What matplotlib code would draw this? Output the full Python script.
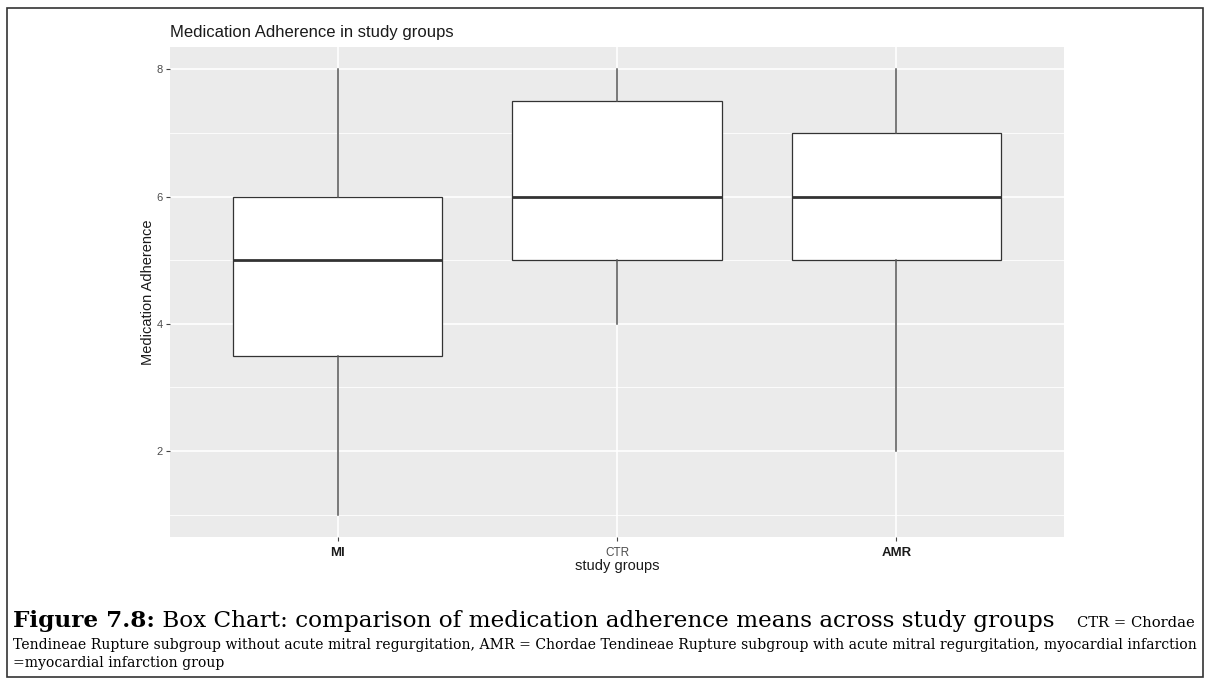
import matplotlib.pyplot as plt
from matplotlib.patches import Rectangle

# datos del gráfico
grupos = ['MI', 'CTR', 'AMR']
bigote_inf = [1, 4, 2]
q1 = [3.5, 5, 5]
mediana = [5, 6, 6]
q3 = [6, 7.5, 7]
bigote_sup = [8, 8, 8]
ticks_y = [2, 4, 6, 8]

W, H = 1206, 679
fig = plt.figure(figsize=(W / 100, H / 100), dpi=100)

# panel de la gráfica (coordenadas en pixeles de la imagen)
x0, x1, y0, y1 = 170, 1064, 47, 537
ax = fig.add_axes([x0 / W, 1 - y1 / H, (x1 - x0) / W, (y1 - y0) / H])
ax.set_facecolor('#EBEBEB')
for s in ax.spines.values():
    s.set_visible(False)

stats = []
for i, g in enumerate(grupos):
    stats.append(dict(label=g, whislo=bigote_inf[i], q1=q1[i], med=mediana[i],
                      q3=q3[i], whishi=bigote_sup[i], fliers=[]))

ax.bxp(stats, positions=range(1, len(grupos) + 1), widths=0.75, patch_artist=True,
       showcaps=False,
       boxprops=dict(facecolor='white', edgecolor='#333333', linewidth=0.9),
       medianprops=dict(color='#333333', linewidth=2.0),
       whiskerprops=dict(color='#555555', linewidth=1.1),
       zorder=3)

ax.set_xlim(0.4, 3.6)
ax.set_ylim(0.65, 8.35)

# rejilla estilo ggplot
ax.set_yticks(ticks_y)
ax.set_yticks([1, 3, 5, 7], minor=True)
ax.grid(which='major', axis='both', color='white', linewidth=1.2, zorder=0)
ax.grid(which='minor', axis='y', color='white', linewidth=0.6, zorder=0)
ax.set_axisbelow(True)
ax.tick_params(which='minor', length=0)
ax.tick_params(which='major', length=3, width=0.8, color='#444444', pad=2)
ax.tick_params(axis='y', labelsize=8, labelcolor='#4D4D4D')
ax.tick_params(axis='x', pad=4)
ax.set_yticklabels([str(t) for t in ticks_y], family='Liberation Sans')

ax.set_xticks(range(1, len(grupos) + 1))
ax.set_xticklabels(grupos, family='Liberation Sans')
for lab in ax.get_xticklabels():
    if lab.get_text() == 'CTR':
        lab.set_fontsize(8.5)
        lab.set_color('#4D4D4D')
    else:
        lab.set_fontsize(9.5)
        lab.set_fontweight('bold')
        lab.set_color('#1A1A1A')

ax.set_xlabel('study groups', family='Liberation Sans', fontsize=10.5,
              color='#1A1A1A', labelpad=0)
ax.set_ylabel('Medication Adherence', family='Liberation Sans', fontsize=10.5,
              color='#1A1A1A', labelpad=1)
ax.set_title('Medication Adherence in study groups', family='Liberation Sans',
             fontsize=12, color='#1A1A1A', loc='left', pad=7)

# marco exterior
fig.patches.append(Rectangle((7 / W, 1 - 677 / H), 1196 / W, 669 / H,
                             transform=fig.transFigure, fill=False,
                             edgecolor='#333333', linewidth=1.2))

# pie de figura con fuentes mezcladas
fig.canvas.draw()
rend = fig.canvas.get_renderer()


def trozo(x, y, txt, **kw):
    t = fig.text(x / W, 1 - y / H, txt, family='DejaVu Serif',
                 va='baseline', ha='left', **kw)
    return x + t.get_window_extent(rend).width, t


linea2 = ('Tendineae Rupture subgroup without acute mitral regurgitation, AMR = Chordae '
          'Tendineae Rupture subgroup with acute mitral regurgitation, myocardial infarction')

# tamaño del texto pequeño ajustado al ancho de la línea 2
fin, t = trozo(13, 649, linea2, fontsize=10)
peq = 10 * (1195 - 13) / (fin - 13)
t.set_fontsize(peq)
trozo(13, 667, '=myocardial infarction group', fontsize=peq)

# línea 1: tamaño grande ajustado para acabar en x~1061
xa, ta = trozo(13, 627, 'Figure 7.8:', fontsize=15, fontweight='bold')
xb, tb = trozo(xa, 627, ' Box Chart: comparison of medication adherence means across study groups',
               fontsize=15)
gran = 15 * (1061 - 13) / (xb - 13)
ta.set_fontsize(gran)
xa = 13 + ta.get_window_extent(rend).width
tb.set_fontsize(gran)
tb.set_x(xa / W)
fin_ctr, tc = trozo(1077, 627, 'CTR = Chordae', fontsize=peq)
tc.set_fontsize(peq * (1195 - 1077) / (fin_ctr - 1077))

plt.savefig('out.png', dpi=100)
plt.close()
